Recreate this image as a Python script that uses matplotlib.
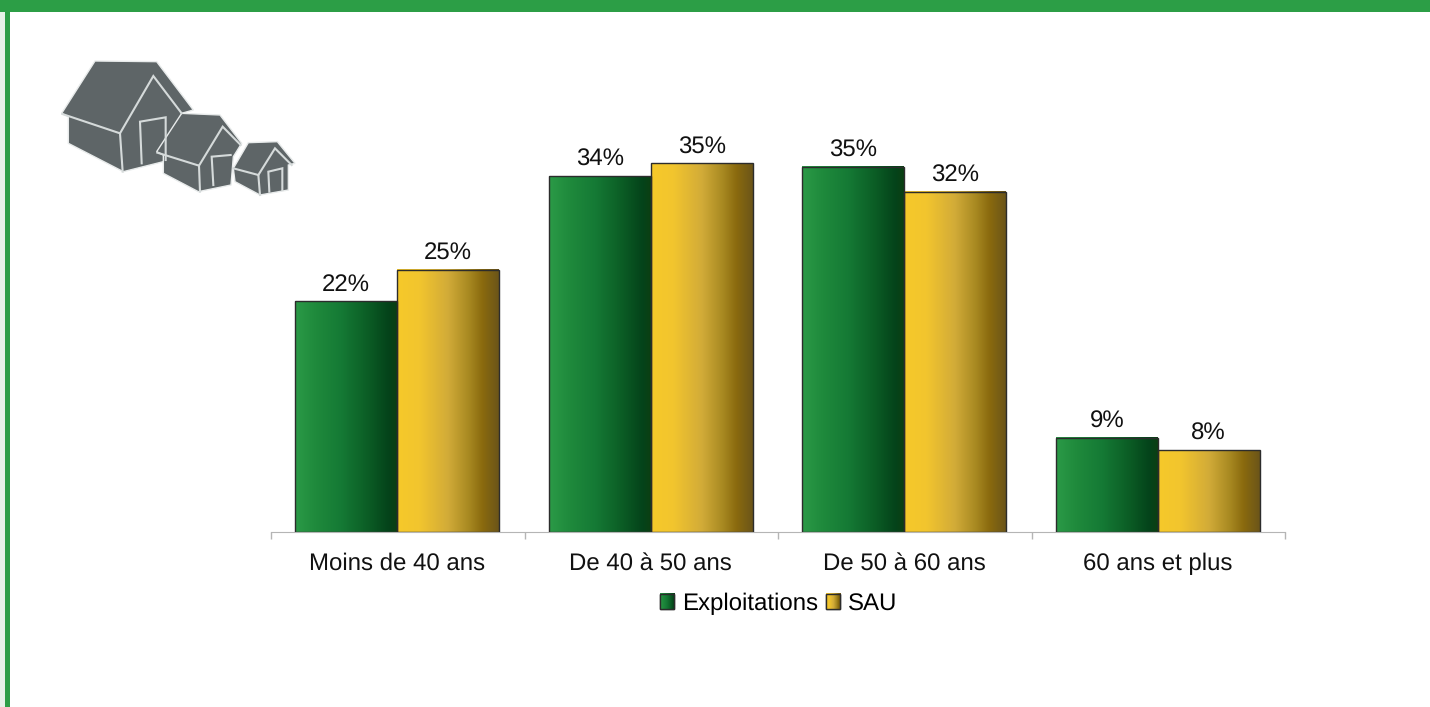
"""
Exploitations et SAU par age - bar chart with gradient bars
"""

import numpy as np
import matplotlib
matplotlib.use("Agg")
import matplotlib.pyplot as plt
from matplotlib.colors import to_rgb
from matplotlib.patches import Polygon, Rectangle

plt.rcParams["font.family"] = ["Liberation Sans", "DejaVu Sans"]
plt.rcParams["text.hinting"] = "no_hinting"
plt.rcParams["text.hinting_factor"] = 1

W, H = 1430, 707

categories = ["Moins de 40 ans", "De 40 à 50 ans", "De 50 à 60 ans", "60 ans et plus"]
exploitations = [22.0, 33.9, 34.8, 9.0]
sau = [25.0, 35.1, 32.4, 7.8]
exploitations_labels = ["22%", "34%", "35%", "9%"]
sau_labels = ["25%", "35%", "32%", "8%"]
series_names = ["Exploitations", "SAU"]

GREEN = ["#2b9a47", "#1f8a3c", "#157a35", "#0c5f26", "#04431a", "#0b3f12"]
GREEN_STOPS = [0, 0.2, 0.45, 0.7, 0.92, 1]
YELLOW = ["#f6c92a", "#f2c52e", "#d2ab38", "#a98a22", "#8a6a0e", "#6b5519"]
YELLOW_STOPS = [0, 0.22, 0.5, 0.7, 0.84, 1]
FONT = 17.5


def gradient(colors, stops, n=256):
    rgb = np.array([to_rgb(c) for c in colors])
    xs = np.linspace(0, 1, n)
    return np.dstack([np.interp(xs, stops, rgb[:, i]) for i in range(3)])


def px_axes(fig, x0, y_top, x1, y_bottom):
    return fig.add_axes([x0 / W, 1 - y_bottom / H, (x1 - x0) / W, (y_bottom - y_top) / H])


def fill_bars(ax, bars, colors, stops):
    for b in bars:
        ax.imshow(
            gradient(colors, stops),
            extent=(b.get_x(), b.get_x() + b.get_width(), 0, b.get_height()),
            aspect="auto",
            zorder=1,
        )


def draw_house(ax, outline, lines, door):
    ax.add_patch(Polygon(np.array(outline) / 3, closed=True, fc="#5e6567", ec="#e8ebeb", lw=1.0))
    for line in lines + [door]:
        pts = np.array(line) / 3
        ax.plot(pts[:, 0], pts[:, 1], color="#d5dada", lw=1.5, solid_joinstyle="miter")


fig = plt.figure(figsize=(W / 100, H / 100), dpi=100, facecolor="white")

ax = px_axes(fig, 271, 100, 1285, 532)
x = np.arange(len(categories)) + 0.498
width = 0.402
bars_e = ax.bar(x - width / 2, exploitations, width, fc="none", ec="#2c2c2c", lw=1.0, zorder=3)
bars_s = ax.bar(x + width / 2, sau, width, fc="none", ec="#2c2c2c", lw=1.0, zorder=3)
fill_bars(ax, bars_e, GREEN, GREEN_STOPS)
fill_bars(ax, bars_s, YELLOW, YELLOW_STOPS)
ax.bar_label(bars_e, labels=exploitations_labels, padding=3.5, fontsize=FONT, color="#111111")
ax.bar_label(bars_s, labels=sau_labels, padding=3.5, fontsize=FONT, color="#111111")

ax.set_xlim(0, len(categories))
ax.set_ylim(0, 432 / 10.5)
ax.set_yticks([])
for side in ["top", "left", "right"]:
    ax.spines[side].set_visible(False)
ax.spines["bottom"].set_color("#b5b5b5")
ax.set_xticks(np.arange(len(categories) + 1))
ax.set_xticklabels([])
ax.tick_params(axis="x", which="major", length=5, width=1, color="#b5b5b5")
ax.set_xticks(x, minor=True)
ax.set_xticklabels(categories, minor=True, fontsize=FONT, color="#111111")
ax.tick_params(axis="x", which="minor", length=0, pad=14.5)

# legend, swatches get their gradient once the layout is known
handles = [Rectangle((0, 0), 1, 1, fc=GREEN[1], ec="#2c2c2c"), Rectangle((0, 0), 1, 1, fc=YELLOW[1], ec="#2c2c2c")]
leg = ax.legend(
    handles, series_names, loc="center", bbox_to_anchor=(778.5 / W, 1 - 604.3 / H),
    bbox_transform=fig.transFigure, ncols=2, frameon=False, fontsize=FONT,
    handlelength=0.58, handleheight=0.58, handletextpad=0.33, columnspacing=0.33, borderpad=0,
)

# overlay in image pixels for the frame, the icon and the swatches
over = fig.add_axes([0, 0, 1, 1], zorder=5)
over.patch.set_alpha(0)
over.axis("off")

over.add_patch(Rectangle((0, 0), W, 12, fc="#2c9e46", ec="none"))
over.add_patch(Rectangle((0, 12), 5, H, fc="#e6f2e8", ec="none"))
over.add_patch(Rectangle((5, 12), 5, H, fc="#2c9e46", ec="none"))

draw_house(
    over,
    [(285, 183), (470, 185), (580, 330), (545, 340), (510, 480), (370, 515), (205, 430), (205, 350), (185, 340)],
    [[(187, 342), (360, 400), (460, 228), (545, 340)], [(360, 400), (368, 515)]],
    [(425, 490), (420, 365), (497, 352), (497, 480)],
)
draw_house(
    over,
    [(545, 340), (660, 345), (725, 430), (700, 470), (693, 555), (595, 575), (490, 520), (490, 465), (470, 455)],
    [[(472, 458), (597, 497), (668, 380), (722, 435)], [(597, 497), (600, 575)]],
    [(640, 555), (635, 470), (692, 465)],
)
draw_house(
    over,
    [(745, 428), (832, 425), (885, 490), (865, 495), (865, 570), (780, 585), (705, 545), (700, 505)],
    [[(700, 505), (775, 525), (825, 445), (875, 495)], [(775, 525), (780, 585)]],
    [(808, 575), (805, 515), (847, 505), (847, 570)],
)

fig.canvas.draw()
for patch, colors, stops in zip(leg.get_patches(), [GREEN, YELLOW], [GREEN_STOPS, YELLOW_STOPS]):
    bb = patch.get_window_extent()
    over.imshow(
        gradient(colors, stops),
        extent=(bb.x0, bb.x1, H - bb.y0, H - bb.y1),
        aspect="auto",
        zorder=3,
    )
    over.add_patch(Rectangle((bb.x0, H - bb.y1), bb.width, bb.height, fc="none", ec="#2c2c2c", lw=1, zorder=4))

over.set_xlim(0, W)
over.set_ylim(H, 0)

fig.savefig("out.png", dpi=100)
